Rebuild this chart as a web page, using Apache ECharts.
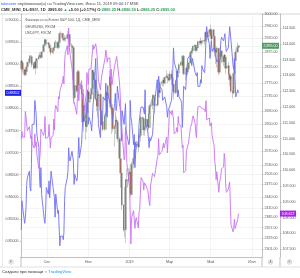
<!DOCTYPE html>
<html><head><meta charset="utf-8">
<script src="https://cdn.jsdelivr.net/npm/echarts@6/dist/echarts.min.js"></script>
<style>html,body{margin:0;padding:0;background:#fff}#c{width:300px;height:278px}</style>
</head><body><div id="c"></div>
<script>
// ---- data ----
const firstDay = '2018-07-25', lastDay = '2019-06-11';
// E-mini S&P 500 daily bars [open, high, low, close]
const esBars = [
[2820,2850,2812,2846],[2846,2852,2832,2839],[2840,2845,2808,2818],
[2818,2822,2797,2802],[2802,2822,2800,2817],[2817,2825,2806,2813],[2812,2830,2800,2827],[2828,2844,2824,2841],
[2841,2853,2835,2852],[2852,2866,2850,2860],[2860,2864,2852,2859],[2859,2865,2850,2855],[2854,2856,2826,2834],
[2834,2843,2818,2823],[2823,2845,2820,2841],[2841,2842,2803,2823],[2823,2850,2821,2845],[2845,2856,2836,2853],
[2853,2863,2850,2859],[2859,2874,2856,2864],[2864,2867,2856,2864],[2864,2869,2852,2857],[2857,2877,2855,2875],
[2876,2900,2874,2897],[2897,2904,2894,2899],[2899,2917,2895,2915],[2915,2916,2895,2903],[2903,2910,2896,2904],
[2904,2908,2899,2904],[2904,2907,2887,2898],[2898,2901,2876,2888],[2888,2892,2869,2877],[2877,2885,2864,2873],
[2873,2886,2870,2880],[2880,2891,2869,2888],[2888,2895,2880,2890],[2890,2909,2888,2905],[2905,2913,2900,2906],
[2906,2910,2884,2889],[2889,2910,2886,2905],[2905,2914,2900,2910],[2910,2939,2908,2935],[2935,2944,2930,2936],
[2936,2937,2912,2922],[2922,2928,2915,2920],[2920,2934,2910,2915],[2915,2930,2910,2920],[2920,2925,2908,2919],
[2919,2944,2918,2931],[2931,2936,2921,2930],[2930,2944,2926,2932],[2932,2933,2895,2910],[2910,2917,2876,2895],
[2895,2904,2870,2893],[2893,2898,2876,2889],[2889,2892,2782,2787],[2787,2797,2711,2730],[2730,2785,2725,2768],
[2768,2784,2746,2751],[2751,2814,2748,2810],[2810,2818,2780,2812],[2812,2816,2757,2770],[2770,2800,2760,2768],
[2768,2785,2746,2756],[2756,2760,2690,2742],[2742,2750,2650,2656],[2656,2718,2640,2706],[2706,2712,2628,2660],
[2660,2710,2603,2642],[2642,2688,2625,2684],[2684,2736,2680,2716],[2716,2750,2700,2748],[2748,2767,2705,2726],
[2726,2746,2715,2740],[2740,2762,2726,2758],[2758,2818,2750,2816],[2816,2818,2797,2810],[2810,2812,2765,2785],
[2785,2790,2722,2727],[2727,2752,2712,2722],[2722,2748,2689,2704],[2704,2740,2670,2735],[2735,2752,2715,2740],
[2740,2746,2680,2691],[2691,2693,2631,2648],[2648,2675,2645,2657],[2657,2660,2645,2653],[2653,2660,2628,2634],
[2634,2680,2630,2675],[2675,2690,2655,2684],[2684,2750,2675,2745],[2745,2750,2725,2738],[2738,2770,2725,2767],
[2767,2815,2765,2795],[2795,2797,2695,2702],[2702,2710,2680,2700],[2700,2702,2621,2698],[2698,2710,2627,2636],
[2636,2648,2583,2642],[2642,2685,2620,2643],[2643,2685,2640,2662],[2662,2672,2640,2656],[2656,2660,2597,2606],
[2606,2612,2534,2550],[2550,2570,2535,2548],[2548,2600,2495,2507],[2507,2520,2442,2467],[2467,2505,2405,2418],
[2418,2420,2346,2351],[2351,2360,2331,2352],[2352,2470,2317,2467],[2467,2490,2397,2488],[2488,2520,2470,2485],
[2485,2520,2480,2506],[2506,2512,2498,2505],[2505,2522,2452,2510],[2510,2512,2440,2447],[2447,2540,2445,2532],
[2532,2566,2520,2549],[2549,2580,2545,2574],[2574,2597,2565,2584],[2584,2598,2560,2596],[2596,2600,2578,2596],
[2596,2598,2566,2582],[2582,2614,2578,2610],[2610,2626,2600,2616],[2616,2645,2598,2635],[2635,2675,2630,2670],
[2670,2672,2655,2666],[2666,2667,2616,2632],[2632,2655,2615,2638],[2638,2647,2627,2642],[2642,2673,2640,2664],
[2664,2665,2625,2643],[2643,2655,2632,2640],[2640,2690,2636,2681],[2681,2710,2668,2704],[2704,2718,2695,2707],
[2707,2726,2695,2725],[2725,2740,2718,2737],[2737,2740,2725,2731],[2731,2732,2685,2706],[2706,2710,2680,2708],
[2708,2722,2702,2710],[2710,2748,2708,2745],[2745,2764,2744,2753],[2753,2760,2730,2746],[2746,2778,2745,2776],
[2776,2782,2770,2778],[2778,2787,2765,2779],[2779,2790,2772,2785],[2785,2788,2765,2775],[2775,2795,2772,2793],
[2793,2815,2790,2797],[2797,2805,2786,2794],[2794,2798,2775,2792],[2792,2795,2780,2785],[2785,2812,2782,2804],
[2804,2818,2768,2792],[2792,2797,2782,2790],[2790,2793,2768,2772],[2772,2775,2738,2751],[2751,2755,2724,2746],
[2746,2786,2740,2784],[2784,2800,2780,2794],[2794,2820,2792,2813],[2813,2818,2800,2808],[2816,2838,2812,2834],
[2834,2845,2828,2841],[2841,2862,2830,2841],[2841,2850,2818,2832],[2832,2866,2822,2861],[2861,2865,2800,2805],
[2805,2812,2785,2804],[2804,2830,2800,2823],[2823,2828,2795,2810],[2810,2825,2800,2820],[2820,2843,2818,2839],
[2839,2876,2838,2873],[2873,2876,2864,2872],[2872,2888,2868,2878],[2878,2884,2868,2880],[2880,2896,2876,2894],
[2894,2898,2884,2897],[2897,2898,2875,2880],[2880,2893,2876,2890],[2890,2895,2882,2889],[2889,2911,2888,2909],
[2909,2912,2898,2906],[2906,2917,2902,2910],[2910,2922,2898,2904],[2904,2912,2896,2910],[2910,2914,2906,2910],
[2910,2916,2898,2913],[2913,2941,2910,2939],[2939,2942,2925,2927],[2927,2933,2908,2924],[2924,2941,2915,2939],
[2939,2950,2935,2946],[2946,2951,2925,2949],[2949,2965,2920,2928],[2928,2937,2905,2918],[2918,2950,2916,2948],
[2948,2951,2875,2926],[2926,2930,2860,2883],[2883,2900,2866,2885],[2885,2890,2835,2873],[2873,2892,2825,2887],
[2887,2888,2800,2810],[2810,2852,2805,2840],[2840,2858,2815,2853],[2853,2890,2850,2878],[2878,2880,2850,2860],
[2860,2862,2830,2843],[2843,2868,2840,2865],[2865,2867,2850,2858],[2858,2860,2805,2823],[2823,2840,2820,2828],
[2828,2835,2823,2830],[2830,2842,2800,2804],[2804,2806,2766,2787],[2787,2800,2780,2797],[2797,2800,2745,2750],
[2750,2765,2728,2745],[2745,2808,2740,2806],[2806,2833,2798,2830],[2830,2850,2820,2847],[2847,2885,2843,2875],
[2875,2905,2872,2890],[2890,2897,2886,2895]
];
// 1/EURUSD daily closes
const eurInv = [
0.8525,0.8591,0.8576,
0.8540,0.8554,0.8576,0.8628,0.8643, 0.8658,0.8621,0.8613,0.8673,0.8764, 0.8764,0.8818,0.8818,0.8787,0.8741,
0.8711,0.8643,0.8621,0.8666,0.8606, 0.8562,0.8547,0.8540,0.8569,0.8621, 0.8606,0.8636,0.8598,0.8598,0.8658,
0.8621,0.8621,0.8598,0.8554,0.8606, 0.8562,0.8569,0.8569,0.8489,0.8511, 0.8511,0.8503,0.8518,0.8591,0.8621,
0.8643,0.8658,0.8711,0.8688,0.8681, 0.8703,0.8703,0.8681,0.8628,0.8651, 0.8636,0.8643,0.8696,0.8734,0.8688,
0.8718,0.8718,0.8780,0.8795,0.8772, 0.8787,0.8818,0.8842,0.8764,0.8780, 0.8764,0.8749,0.8749,0.8803,0.8826,
0.8913,0.8857,0.8842,0.8826,0.8764, 0.8734,0.8795,0.8764,0.8772,0.8826, 0.8818,0.8857,0.8795,0.8780,0.8834,
0.8811,0.8818,0.8818,0.8787,0.8772, 0.8811,0.8834,0.8795,0.8803,0.8850, 0.8811,0.8803,0.8787,0.8726,0.8795,
0.8764,0.8764,0.8811,0.8749,0.8741, 0.8718,0.8726,0.8818,0.8780,0.8772, 0.8718,0.8741,0.8666,0.8696,0.8718,
0.8718,0.8764,0.8780,0.8780,0.8803, 0.8803,0.8803,0.8787,0.8842,0.8764, 0.8749,0.8749,0.8711,0.8734,0.8726,
0.8741,0.8764,0.8795,0.8818,0.8826, 0.8865,0.8826,0.8873,0.8857,0.8850, 0.8842,0.8818,0.8818,0.8818,0.8826,
0.8803,0.8780,0.8795,0.8795,0.8803, 0.8818,0.8842,0.8842,0.8937,0.8905, 0.8889,0.8857,0.8826,0.8842,0.8826,
0.8818,0.8811,0.8757,0.8795,0.8850, 0.8842,0.8873,0.8889,0.8913,0.8913, 0.8921,0.8921,0.8897,0.8913,0.8913,
0.8881,0.8881,0.8873,0.8881,0.8850, 0.8850,0.8865,0.8857,0.8897,0.8889, 0.8881,0.8913,0.8961,0.8985,0.8969,
0.8945,0.8913,0.8937,0.8953,0.8929, 0.8937,0.8937,0.8921,0.8913,0.8905, 0.8913,0.8921,0.8929,0.8953,0.8961,
0.8953,0.8961,0.8969,0.8945,0.8929, 0.8937,0.8961,0.8985,0.8985,0.8953, 0.8897,0.8889,0.8913,0.8865,0.8826,
0.8842,0.88352
];
// USDJPY daily closes
const usdJpy = [
110.98,111.22,111.05,
111.05,111.86,111.70,111.68,111.25, 111.38,111.40,111.00,111.08,110.86, 110.70,111.15,110.75,110.90,110.50,
110.05,110.30,110.57,111.30,111.24, 111.10,111.20,111.70,111.00,111.03, 111.06,111.45,111.50,110.70,111.02,
111.10,111.62,111.27,111.93,112.05, 111.85,112.33,112.25,112.50,112.58, 112.80,112.97,112.73,113.40,113.70,
113.94,113.65,114.50,113.90,113.70, 113.23,113.00,112.25,112.17,112.20, 111.77,112.27,112.65,112.20,112.55,
112.82,112.45,112.25,112.42,111.89, 112.40,113.09,112.94,112.70,113.20, 113.20,113.45,113.50,113.97,113.82,
114.00,113.85,113.63,113.58,112.85, 112.53,112.80,113.00,112.95,112.95, 113.57,113.80,113.65,113.42,113.55,
113.55,112.80,113.20,112.70,112.70, 113.32,113.40,113.50,113.60,113.40, 112.82,112.50,112.47,111.40,111.23,
110.33,110.40,111.35,110.95,110.25, 109.65,109.45,108.70,107.67,108.50, 108.72,108.75,108.16,108.42,108.50,
108.17,108.66,108.75,109.23,109.77, 109.65,109.37,109.60,109.65,109.53, 109.35,109.38,109.00,108.88,109.50,
109.90,109.95,109.95,109.80,109.75, 110.38,110.47,111.00,110.48,110.48, 110.60,110.60,110.85,110.70,110.70,
111.05,110.55,111.00,111.38,111.90, 111.76,111.90,111.75,111.62,111.15, 111.22,111.35,111.20,111.70,111.45,
111.40,111.40,110.70,110.80,109.92, 109.98,110.60,110.57,110.65,110.85, 111.35,111.35,111.48,111.65,111.72,
111.48,111.15,111.03,111.65,112.00, 112.03,112.00,112.05,111.95,111.92, 111.92,111.85,112.20,111.60,111.60,
111.65,111.40,111.45,111.50,111.10, 110.77,110.28,110.10,109.70,109.95, 109.30,109.60,109.55,109.85,110.05,
110.10,110.53,110.35,109.60,109.30, 109.40,109.40,109.62,109.60,108.28, 108.05,108.15,108.45,108.15,108.20,
108.45,108.627
];
// tick labels
const xTickDates = ['2018-09-01','2018-11-01','2019-01-01','2019-03-01','2019-05-01','2019-07-01'];
const xTickLabels = ['Сен','Ноя','2019','Мар','Май','Июл'];
const eurTicks = [0.85,0.855,0.86,0.865,0.87,0.875,0.88,0.885,0.89,0.895,0.90];
const esTicks = [2301,2329,2357,2385,2410,2440,2475,2505,2530,2570,2610,2650,2690,2735,2775,2825,2875,2920,2960,3000];
const jpyTicks = [107.5,108,108.5,109,109.5,110,110.5,111,111.5,112,112.5,113,113.5,114,114.5];

// ---- build ----
function tradingDays(a, b) {
  const out = []; let t = Date.parse(a + 'T00:00:00Z'); const e = Date.parse(b + 'T00:00:00Z');
  while (t <= e) { const d = new Date(t).getUTCDay(); if (d !== 0 && d !== 6) out.push(t); t += 864e5; }
  return out;
}
const days = tradingDays(firstDay, lastDay);
const n = Math.min(days.length, esBars.length, eurInv.length, usdJpy.length);
const wickData = [], bodyData = [], eurData = [], jpyData = [];
for (let i = 0; i < n; i++) {
  const b = esBars[i];
  // ECharts candlestick order: [x, open, close, lowest, highest]
  wickData.push([days[i], b[0], b[3], b[2], b[1]]);
  bodyData.push([days[i], b[0], b[3], Math.min(b[0], b[3]), Math.max(b[0], b[3])]);
  eurData.push([days[i], eurInv[i]]);
  jpyData.push([days[i], usdJpy[i]]);
}
const xTickTimes = xTickDates.map(d => Date.parse(d + 'T00:00:00Z'));
const esLast = esBars[n - 1][3], eurLast = eurInv[n - 1], jpyLast = usdJpy[n - 1];

const FONT = 'Liberation Sans, Arial, sans-serif';
const lab = { fontSize: 3.6, color: '#555', fontFamily: FONT };
const GREEN = '#2e9e5b';

const chart = echarts.init(document.getElementById('c'), null, { renderer: 'canvas' });
const option = {
  animation: false,
  backgroundColor: '#fff',
  textStyle: { fontFamily: FONT },
  title: [
    { left: 1, top: 1.5, padding: 0, text: '{a|takeover} опубликовал(а) на TradingView.com, Июнь 11, 2019 09:00:17 MSK',
      textStyle: { fontSize: 4, fontWeight: 'normal', color: '#444', fontFamily: FONT, rich: { a: { fontSize: 4, color: '#2962ff' } } } },
    { left: 1, top: 7.5, padding: 0, text: '{b|CME_MINI_DL:ES1!, 1D}  {d|2895.00} {g|▲} {d|+5.00 (+0.17%)} {d|О:}{g|2890.25} {d|Н:}{g|2896.50} {d|L:}{g|2886.25} {d|C:}{g|2895.00}',
      textStyle: { fontSize: 4, color: '#333', fontFamily: FONT,
        rich: { b: { fontSize: 4, fontWeight: 'bold', color: '#333' }, d: { fontSize: 4, color: '#333' }, g: { fontSize: 4, color: GREEN } } } },
    { left: 25, top: 18, padding: 0, text: 'Фьючерсы на E-mini S&P 500, 1Д, CME_MINI', textStyle: { fontSize: 3.6, fontWeight: 'normal', color: '#555', fontFamily: FONT } },
    { left: 25, top: 24.5, padding: 0, text: '1/EURUSD, FXCM', textStyle: { fontSize: 3.6, fontWeight: 'normal', color: '#555', fontFamily: FONT } },
    { left: 25, top: 31, padding: 0, text: 'USDJPY, FXCM', textStyle: { fontSize: 3.6, fontWeight: 'normal', color: '#555', fontFamily: FONT } },
    { left: 2, top: 269.5, padding: 0, text: 'Создано при помощи {t|◖ TradingView}',
      textStyle: { fontSize: 4.2, fontWeight: 'normal', color: '#333', fontFamily: FONT, rich: { t: { fontSize: 4.2, color: '#2196f3' } } } }
  ],
  graphic: [
    { type: 'line', shape: { x1: 0, y1: 14, x2: 300, y2: 14 }, style: { stroke: '#bbb', lineWidth: 0.6 }, silent: true },
    { type: 'line', shape: { x1: 2.5, y1: 14, x2: 2.5, y2: 267 }, style: { stroke: '#ddd', lineWidth: 0.6 }, silent: true },
    { type: 'line', shape: { x1: 21, y1: 257, x2: 21, y2: 267 }, style: { stroke: '#999', lineWidth: 0.6 }, silent: true },
    { type: 'line', shape: { x1: 262, y1: 257, x2: 262, y2: 267 }, style: { stroke: '#999', lineWidth: 0.6 }, silent: true },
    { type: 'line', shape: { x1: 280, y1: 257, x2: 280, y2: 267 }, style: { stroke: '#999', lineWidth: 0.6 }, silent: true },
    { type: 'line', shape: { x1: 0, y1: 267, x2: 300, y2: 267 }, style: { stroke: '#ccc', lineWidth: 0.6 }, silent: true },
    { type: 'circle', shape: { cx: 11, cy: 262, r: 2.2 }, style: { fill: '#fff', stroke: '#aaa', lineWidth: 0.5 }, silent: true },
    { type: 'text', x: 11, y: 262, style: { text: 'E', fontSize: 3, fill: '#666', align: 'center', verticalAlign: 'middle' }, silent: true },
    { type: 'circle', shape: { cx: 270.5, cy: 262, r: 2.2 }, style: { fill: '#fff', stroke: '#aaa', lineWidth: 0.5 }, silent: true },
    { type: 'text', x: 270.5, y: 262, style: { text: 'A', fontSize: 3, fill: '#666', align: 'center', verticalAlign: 'middle' }, silent: true },
    { type: 'circle', shape: { cx: 289.5, cy: 262, r: 2.2 }, style: { fill: '#fff', stroke: '#aaa', lineWidth: 0.5 }, silent: true },
    { type: 'text', x: 289.5, y: 262, style: { text: 'B', fontSize: 3, fill: '#666', align: 'center', verticalAlign: 'middle' }, silent: true }
  ],
  grid: { left: 21, right: 38, top: 14, bottom: 21, containLabel: false },
  xAxis: {
    type: 'value',
    min: Date.parse('2018-07-24T14:00:00Z'),
    max: Date.parse('2019-07-15T19:00:00Z'),
    axisLine: { show: true, onZero: false, lineStyle: { color: '#999', width: 0.6 } },
    axisTick: { show: false, customValues: xTickTimes },
    axisLabel: Object.assign({ customValues: xTickTimes, margin: 3,
      formatter: v => { let k = 0, best = Infinity; xTickTimes.forEach((t, i) => { const d = Math.abs(t - v); if (d < best) { best = d; k = i; } }); return xTickLabels[k]; } }, lab),
    splitLine: { show: true, lineStyle: { color: '#ededed', width: 0.6 } }
  },
  yAxis: [
    { type: 'value', position: 'left', min: 0.84638, max: 0.90136,
      axisLine: { show: true, onZero: false, lineStyle: { color: '#999', width: 0.6 } },
      axisTick: { show: true, length: 1.5, customValues: eurTicks, lineStyle: { color: '#999', width: 0.5 } },
      axisLabel: Object.assign({ customValues: eurTicks, margin: 2.5, formatter: v => v.toFixed(5) }, lab),
      splitLine: { show: false },
      axisPointer: { show: true, type: 'none', value: eurLast, status: 'show', triggerTooltip: false,
        label: { show: true, precision: 5, backgroundColor: '#1e1ee6', color: '#fff', fontSize: 3.6, padding: [1.2, 1.5, 0.8, 1.5], borderRadius: 0, fontFamily: FONT, margin: 0 } } },
    { type: 'log', logBase: 10, position: 'right', min: 2280, max: 3001,
      axisLine: { show: true, onZero: false, lineStyle: { color: '#999', width: 0.6 } },
      axisTick: { show: true, length: 1.5, customValues: esTicks, lineStyle: { color: '#999', width: 0.5 } },
      axisLabel: Object.assign({ customValues: esTicks, margin: 2.5, formatter: v => Number(v).toFixed(2) }, lab),
      splitLine: { show: true, lineStyle: { color: '#ededed', width: 0.6 } },
      axisPointer: { show: true, type: 'line', value: esLast, status: 'show', triggerTooltip: false,
        lineStyle: { color: GREEN, width: 0.5, opacity: 0.35, type: 'dotted' },
        label: { show: true, precision: 2, backgroundColor: '#4c9a64', color: '#fff', fontSize: 3.6, padding: [1.2, 1.5, 0.8, 1.5], borderRadius: 0, fontFamily: FONT, margin: 0 } } },
    { type: 'value', position: 'right', offset: 18, min: 107.253, max: 114.943,
      axisLine: { show: true, onZero: false, lineStyle: { color: '#999', width: 0.6 } },
      axisTick: { show: true, length: 1.5, customValues: jpyTicks, lineStyle: { color: '#999', width: 0.5 } },
      axisLabel: Object.assign({ customValues: jpyTicks, margin: 2.5, formatter: v => v.toFixed(3) }, lab),
      splitLine: { show: false },
      axisPointer: { show: true, type: 'none', value: jpyLast, status: 'show', triggerTooltip: false,
        label: { show: true, precision: 3, backgroundColor: '#b01cf0', color: '#fff', fontSize: 3.6, padding: [1.2, 1.5, 0.8, 1.5], borderRadius: 0, fontFamily: FONT, margin: 0 } } }
  ],
  series: [
    { name: 'ES wick', type: 'candlestick', xAxisIndex: 0, yAxisIndex: 1, data: wickData, barWidth: 2.2, z: 2,
      itemStyle: { color: '#b4b4b4', color0: '#b4b4b4', borderColor: '#b4b4b4', borderColor0: '#b4b4b4', borderWidth: 0.7 } },
    { name: 'ES body', type: 'candlestick', xAxisIndex: 0, yAxisIndex: 1, data: bodyData, barWidth: 1, z: 3,
      itemStyle: { color: '#2e6b3c', color0: '#8a2614', borderColor: '#2e6b3c', borderColor0: '#8a2614', borderWidth: 0.5 } },
    { name: 'EUR', type: 'line', xAxisIndex: 0, yAxisIndex: 0, data: eurData, showSymbol: false, symbol: 'none', z: 4,
      lineStyle: { color: '#6f6ff8', width: 0.9 } },
    { name: 'JPY', type: 'line', xAxisIndex: 0, yAxisIndex: 2, data: jpyData, showSymbol: false, symbol: 'none', z: 4,
      lineStyle: { color: '#cc70f6', width: 0.9 } }
  ]
};
try { chart.setOption(option); } catch (e) {
  console.error('first attempt failed: ' + e.message);
  option.yAxis.forEach(a => { delete a.axisPointer; });
  chart.setOption(option, true);
}
</script>
</body></html>
